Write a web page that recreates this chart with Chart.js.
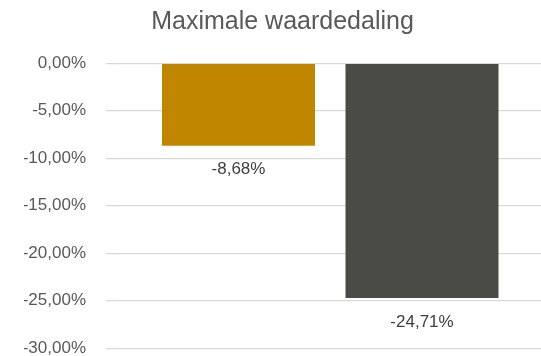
<!DOCTYPE html>
<html>
<head>
<meta charset="utf-8">
<script src="https://cdn.jsdelivr.net/npm/chart.js@4/dist/chart.umd.min.js"></script>
<style>
  html, body { margin: 0; padding: 0; background: #ffffff; }
  #wrap { width: 541px; height: 356px; position: relative; }
</style>
</head>
<body>
<div id="wrap"><canvas id="c" width="541" height="356"></canvas></div>
<script>
// Chart content
const chartTitle = 'Maximale waardedaling';
const categories = [''];
const seriesNames = ['Reeks A', 'Reeks B'];
const seriesValues = [[-8.68], [-24.71]];
const seriesColors = ['#C08600', '#4B4B46'];
const yTicks = [0, -5, -10, -15, -20, -25, -30];

const fmtPct = v => v.toFixed(2).replace('.', ',') + '%';

// Writes each bar's value just beyond its end
const valueLabels = {
  id: 'valueLabels',
  afterDatasetsDraw(chart) {
    const ctx = chart.ctx;
    ctx.save();
    ctx.font = '17px "Liberation Sans", Arial, sans-serif';
    ctx.fillStyle = '#404040';
    ctx.textAlign = 'center';
    ctx.textBaseline = 'middle';
    chart.data.datasets.forEach((ds, i) => {
      chart.getDatasetMeta(i).data.forEach((bar, j) => {
        ctx.fillText(fmtPct(ds.data[j]), bar.x, bar.y + 24);
      });
    });
    ctx.restore();
  }
};

new Chart(document.getElementById('c'), {
  type: 'bar',
  data: {
    labels: categories,
    datasets: seriesNames.map((name, i) => ({
      label: name,
      data: seriesValues[i],
      backgroundColor: seriesColors[i],
      borderWidth: 0,
      categoryPercentage: 0.8707,
      barPercentage: 0.8338
    }))
  },
  options: {
    responsive: false,
    animation: false,
    layout: { padding: { left: 24, right: 0, top: 0, bottom: 7.7 } },
    plugins: {
      legend: { display: false },
      tooltip: { enabled: false },
      title: {
        display: true,
        text: chartTitle,
        color: '#595959',
        font: { family: '"Liberation Sans", Arial, sans-serif', size: 25, weight: 'normal', lineHeight: 1.2 },
        padding: { top: 7, bottom: 26.3 }
      }
    },
    scales: {
      x: { display: false },
      y: {
        min: yTicks[yTicks.length - 1],
        max: yTicks[0],
        afterBuildTicks(scale) { scale.ticks = yTicks.map(v => ({ value: v })); },
        afterFit(scale) { scale.width = 95.5; scale.paddingTop = 0; scale.paddingBottom = 0; },
        border: { display: false },
        grid: { color: '#d9d9d9', lineWidth: 1.3, drawTicks: true, tickLength: 13.5 },
        ticks: {
          padding: 20,
          color: '#595959',
          font: { family: '"Liberation Sans", Arial, sans-serif', size: 17 },
          callback: v => fmtPct(v)
        }
      }
    }
  },
  plugins: [valueLabels]
});
</script>
</body>
</html>
